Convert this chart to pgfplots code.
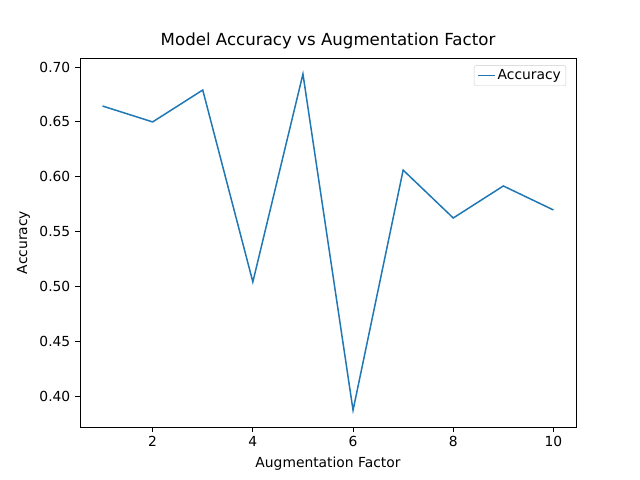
\documentclass[border=0pt]{standalone}
\usepackage{pgfplots}
\pgfplotsset{compat=1.18}
\usepackage{fontspec}
\setmainfont{DejaVu Sans}
\definecolor{mblue}{HTML}{1F77B4}
\begin{document}
\fontsize{13.9}{16}\selectfont
\begin{tikzpicture}
\useasboundingbox (0,0) rectangle (640bp,480bp);
\begin{axis}[at={(80bp,53bp)},anchor=south west,scale only axis,
width=496bp,height=369bp,
xmin=0.55,xmax=10.45,ymin=0.3717,ymax=0.7082,
xtick={2,4,6,8,10},
ytick={0.40,0.45,0.50,0.55,0.60,0.65,0.70},
yticklabel style={/pgf/number format/.cd,fixed,fixed zerofill,precision=2},
/pgf/number format/assume math mode=true,
tick align=outside,tick style={black,line width=0.8bp},
major tick length=4.9bp,
xtick pos=bottom,ytick pos=left,
ticklabel style={font=\fontsize{13.9}{16}\selectfont},
label style={font=\fontsize{13.9}{16}\selectfont},
title style={font=\fontsize{16.7}{19}\selectfont,yshift=-2bp},
title={Model Accuracy vs Augmentation Factor},
xlabel={Augmentation Factor},ylabel={Accuracy},
legend style={at={(0.98,0.98)},anchor=north east,font=\fontsize{13.9}{16}\selectfont,draw=black!20,rounded corners=2bp},
legend cell align=left,
axis line style={line width=0.8bp},
]
\addplot[mblue,line width=1.5bp] coordinates {(1,0.6644)(2,0.6499)(3,0.679)(4,0.504)(5,0.6936)(6,0.387)(7,0.606)(8,0.5623)(9,0.5915)(10,0.5696)};
\addlegendentry{Accuracy}
\end{axis}
\end{tikzpicture}
\end{document}
